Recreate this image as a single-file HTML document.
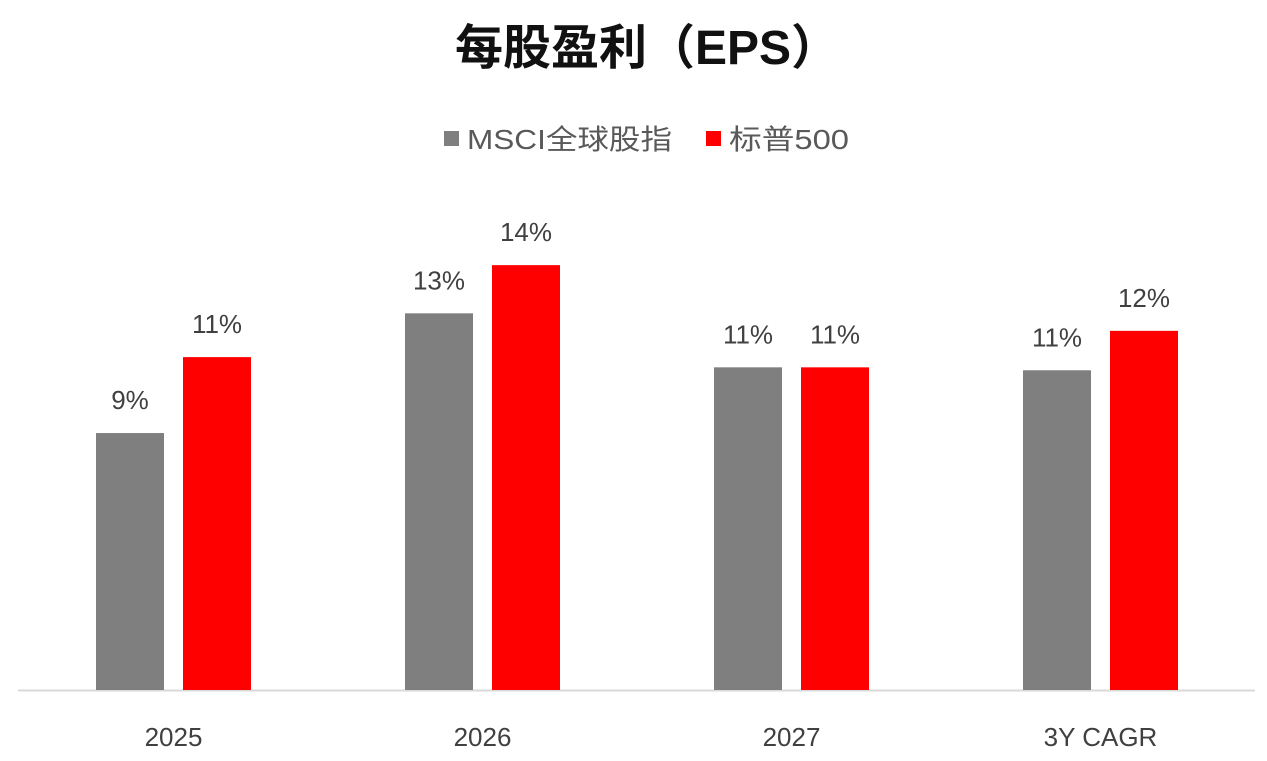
<!DOCTYPE html>
<html><head><meta charset="utf-8">
<style>
html,body{margin:0;padding:0;background:#fff;}
body{width:1267px;height:756px;overflow:hidden;font-family:"Liberation Sans","Noto Sans CJK SC",sans-serif;}
</style></head>
<body>
<svg id="chart" width="1267" height="756" xmlns="http://www.w3.org/2000/svg">
<text x="647" y="64" text-anchor="middle" font-size="48" font-weight="bold" fill="#111" font-family="Liberation Sans, Noto Sans CJK SC, sans-serif">每股盈利（EPS）</text>
<g font-size="28" fill="#595959" font-family="Liberation Sans, Noto Sans CJK SC, sans-serif">
<rect x="444" y="131" width="15" height="15" fill="#7f7f7f"/>
<text x="467" y="149" textLength="205" lengthAdjust="spacingAndGlyphs">MSCI全球股指</text>
<rect x="706" y="131" width="15" height="15" fill="#ff0000"/>
<text x="729" y="149" textLength="120" lengthAdjust="spacingAndGlyphs">标普500</text>
</g>
<line x1="18" y1="690.5" x2="1255" y2="690.5" stroke="#d9d9d9" stroke-width="2"/>
<g id="bars"></g>
</svg>
<script>
const categories = ["2025","2026","2027","3Y CAGR"];
const msciValues = [8.8, 12.9, 11.05, 10.95];
const sp500Values = [11.4, 14.55, 11.05, 12.3];
const msciLabels = ["9%","13%","11%","11%"];
const sp500Labels = ["11%","14%","11%","12%"];

const plotLeft = 19, plotRight = 1255, baseY = 690, pxPerUnit = 29.2;
const bandW = (plotRight - plotLeft) / categories.length;
const barW = 68, gap = 19;
function xCenter(i){ return plotLeft + bandW * (i + 0.5); }
function yScale(v){ return baseY - v * pxPerUnit; }
const NS = "http://www.w3.org/2000/svg";
const g = document.getElementById("bars");
function mk(tag, attrs){ const e = document.createElementNS(NS, tag); for (const k in attrs) e.setAttribute(k, attrs[k]); return e; }
categories.forEach((c, i) => {
  const cx = xCenter(i);
  const series = [
    {v: msciValues[i], l: msciLabels[i], x: cx - gap/2 - barW, col: "#7f7f7f", n: "msci"},
    {v: sp500Values[i], l: sp500Labels[i], x: cx + gap/2, col: "#ff0000", n: "sp500"}
  ];
  series.forEach(s => {
    const y = yScale(s.v);
    const r = mk("rect", {x: s.x, y: y, width: barW, height: baseY - y, fill: s.col});
    
    
    g.appendChild(r);
    const t = mk("text", {x: s.x + barW/2, y: y - 24, "text-anchor": "middle", "font-size": "26", fill: "#404040", "font-family": "Liberation Sans, sans-serif"});
    t.textContent = s.l;
    
    
    g.appendChild(t);
  });
  const ct = mk("text", {x: cx, y: 746, "text-anchor": "middle", "font-size": "26", fill: "#404040", "font-family": "Liberation Sans, sans-serif"});
  ct.textContent = c;
  
  
  g.appendChild(ct);
});
</script>
</body></html>
